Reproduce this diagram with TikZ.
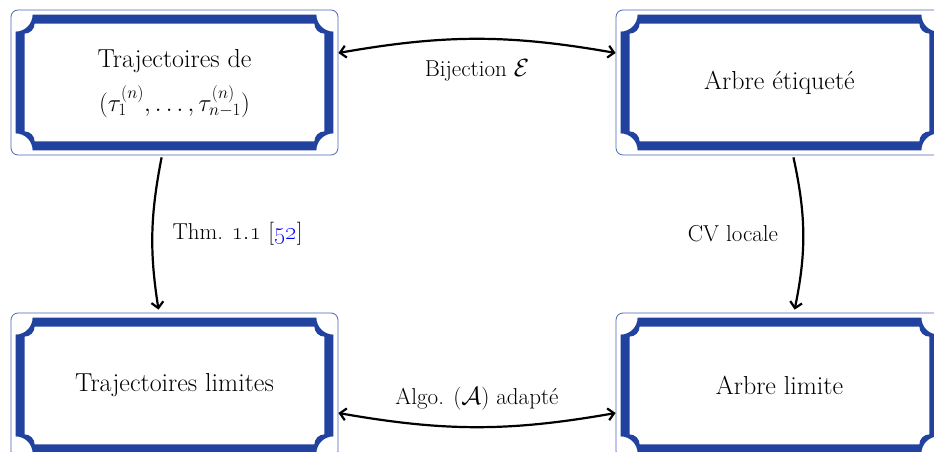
\documentclass[tikz,border=0pt]{standalone}
\usetikzlibrary{arrows.meta,calc}
\definecolor{plaquefill}{HTML}{2242A0}
\definecolor{plaqueline}{HTML}{4A66B8}
\tikzset{
  plaque/.style={rectangle, draw=plaqueline, line width=0.8pt, rounded corners=7pt,
    minimum width=327pt, minimum height=145pt, inner sep=0pt, align=center,
    font=\fontsize{26}{35}\selectfont},
  conn/.style={line width=2.2pt, black},
  tipbarb/.tip={Straight Barb[length=6pt,width=12pt]},
  lab/.style={font=\fontsize{23}{27}\selectfont, inner sep=2pt}
}
\newcommand\plaqueframe[1]{%
\fill[plaquefill,even odd rule] let \p1=(#1.south west), \p2=(#1.north east) in
 (\x1+5pt,\y2-22pt) arc[start angle=270,end angle=360,radius=17pt]
 -- (\x2-22pt,\y2-5pt) arc[start angle=180,end angle=270,radius=17pt]
 -- (\x2-5pt,\y1+22pt) arc[start angle=90,end angle=180,radius=17pt]
 -- (\x1+22pt,\y1+5pt) arc[start angle=0,end angle=90,radius=17pt] -- cycle
 (\x1+14pt,\y2-24pt) arc[start angle=270,end angle=360,radius=10pt]
 -- (\x2-24pt,\y2-14pt) arc[start angle=180,end angle=270,radius=10pt]
 -- (\x2-14pt,\y1+24pt) arc[start angle=90,end angle=180,radius=10pt]
 -- (\x1+24pt,\y1+14pt) arc[start angle=0,end angle=90,radius=10pt] -- cycle;}
\begin{document}
\begin{tikzpicture}[x=1pt,y=1pt]
\useasboundingbox (0,0) rectangle (934,452);
\clip (0,0) rectangle (934,452);
\node[plaque] (tl) at (174.5,369.5) {\raisebox{6pt}{\begin{tabular}{@{}c@{}}Trajectoires de\\[7pt] $(\tau_1^{(n)},\ldots,\tau_{n-1}^{(n)})$\end{tabular}}};
\node[plaque] (tr) at (779.5,369.5) {Arbre étiqueté};
\node[plaque] (bl) at (174.5,66.5) {Trajectoires limites};
\node[plaque] (br) at (779.5,66.5) {Arbre limite};
\plaqueframe{tl}
\plaqueframe{tr}
\plaqueframe{bl}
\plaqueframe{br}
\draw[conn, tipbarb-tipbarb] ([yshift=29.5pt]tl.east) to[bend left=10]
  node[midway, below=17pt, lab] {Bijection $\mathcal{E}$} ([yshift=29.5pt]tr.west);
\draw[conn, tipbarb-tipbarb] ([yshift=-27.5pt]bl.east) to[bend right=10]
  node[midway, above=14pt, lab] {Algo. ($\mathcal{A}$) adapté} ([yshift=-27.5pt]br.west);
\draw[conn, -tipbarb, shorten <=2pt, shorten >=3pt] ([xshift=-12.5pt]tl.south) to[bend right=10]
  node[midway, right=17pt, lab] {Thm. \oldstylenums{1.1} [\textcolor{blue}{\oldstylenums{52}}]} ([xshift=-15.5pt]bl.north);
\draw[conn, -tipbarb, shorten <=2pt, shorten >=3pt] ([xshift=13.5pt]tr.south) to[bend left=12]
  node[midway, left=22pt, lab] {CV locale} ([xshift=14.5pt]br.north);
\end{tikzpicture}
\end{document}
